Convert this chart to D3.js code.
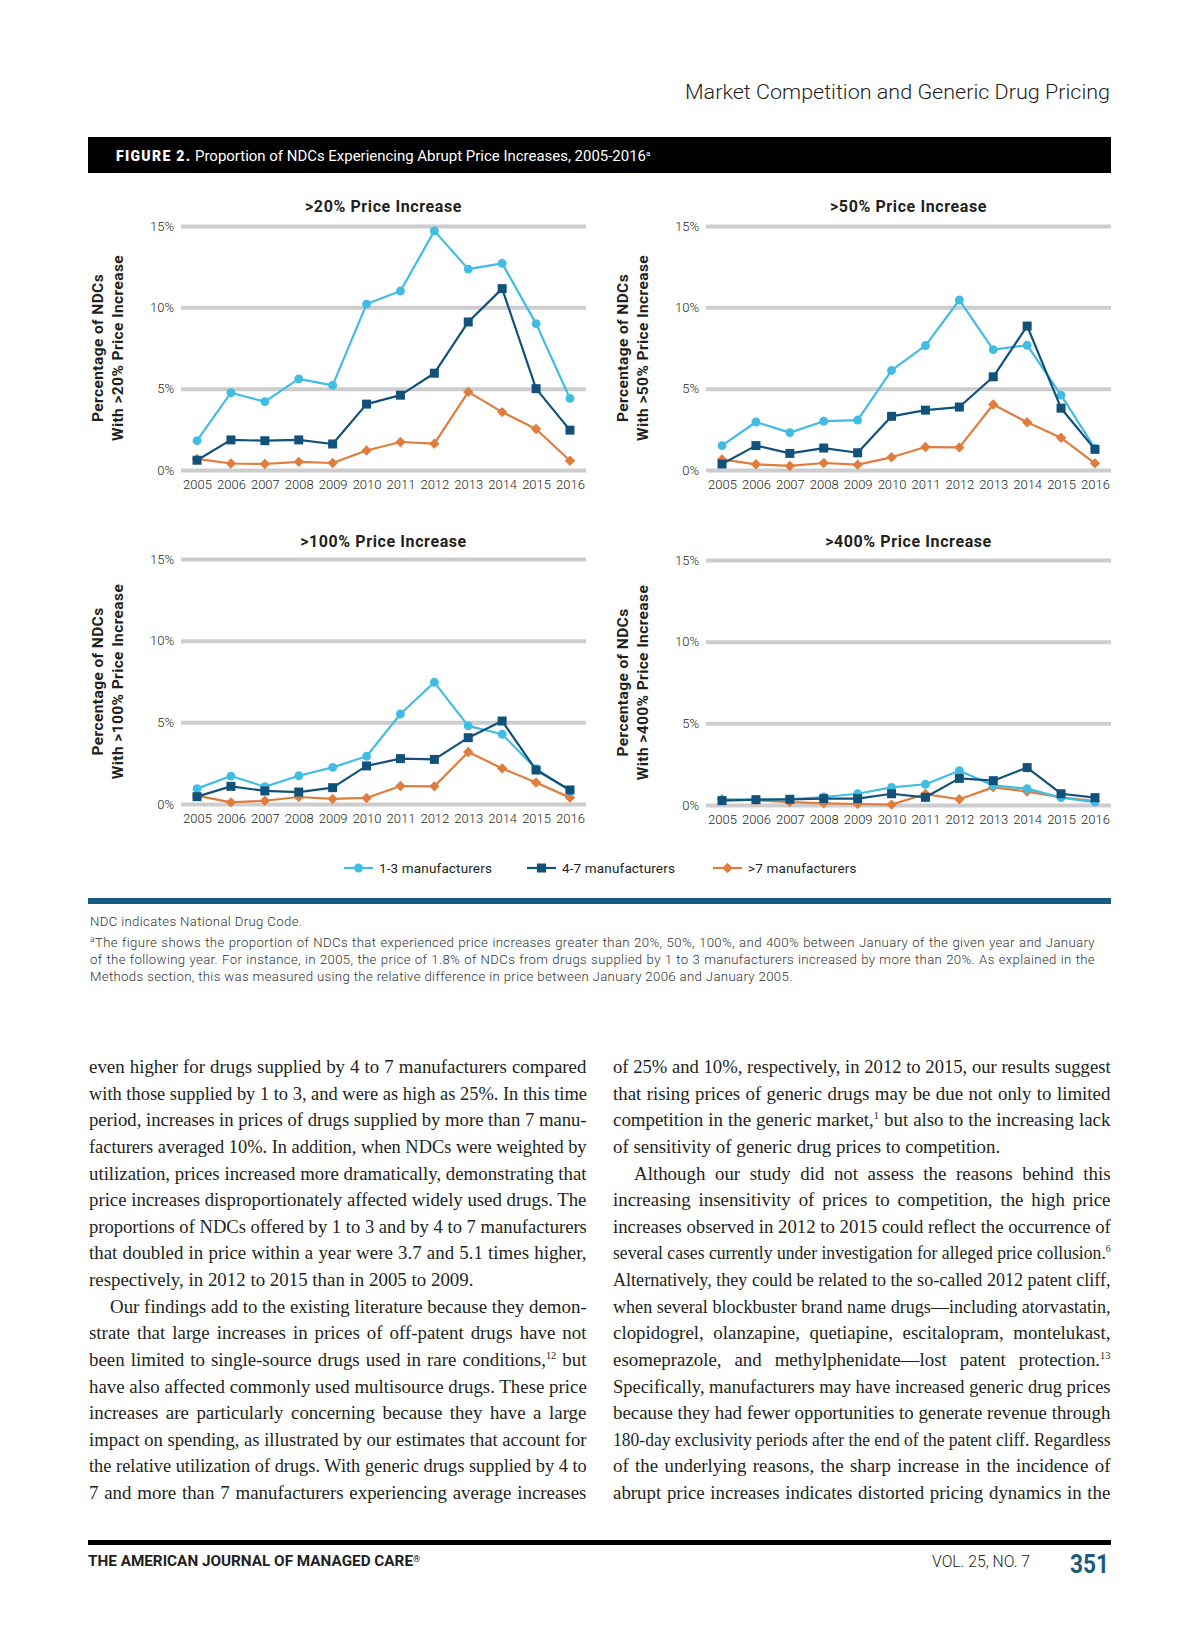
<!DOCTYPE html>
<html><head><meta charset="utf-8">
<script src="https://cdn.jsdelivr.net/npm/d3@7"></script>
<style>
body{margin:0;background:#fff}
svg{display:block}
</style>
</head><body>
<svg id="page" width="1200" height="1638"></svg>
<script>
// ---------------- DATA ----------------
const years = [2005,2006,2007,2008,2009,2010,2011,2012,2013,2014,2015,2016];
const seriesNames = ["1-3 manufacturers","4-7 manufacturers",">7 manufacturers"];
const yTickValues = [0,5,10,15];
const panelTitles = [">20% Price Increase",">50% Price Increase",">100% Price Increase",">400% Price Increase"];
const yTitleLine1 = "Percentage of NDCs";
const yTitleLine2 = ["With >20% Price Increase","With >50% Price Increase","With >100% Price Increase","With >400% Price Increase"];

// >20% price increase
const inc20_mfr1to3  = [1.8,4.75,4.2,5.6,5.2,10.2,11.0,14.7,12.35,12.7,9.0,4.4];
const inc20_mfr4to7  = [0.6,1.85,1.8,1.85,1.6,4.05,4.6,5.95,9.1,11.15,5.0,2.45];
const inc20_mfrOver7 = [0.68,0.4,0.37,0.5,0.43,1.2,1.72,1.62,4.8,3.56,2.52,0.57];
// >50% price increase
const inc50_mfr1to3  = [1.5,2.95,2.3,3.0,3.07,6.12,7.65,10.45,7.4,7.67,4.6,1.33];
const inc50_mfr4to7  = [0.37,1.5,1.02,1.35,1.06,3.3,3.68,3.87,5.73,8.85,3.8,1.27];
const inc50_mfrOver7 = [0.65,0.35,0.25,0.43,0.33,0.78,1.41,1.39,4.03,2.93,1.98,0.41];
// >100% price increase
const inc100_mfr1to3  = [0.94,1.71,1.06,1.73,2.24,2.92,5.51,7.45,4.78,4.27,2.16,0.8];
const inc100_mfr4to7  = [0.45,1.08,0.8,0.73,1.0,2.33,2.78,2.73,4.06,5.08,2.08,0.86];
const inc100_mfrOver7 = [0.51,0.1,0.2,0.43,0.31,0.37,1.1,1.08,3.18,2.18,1.31,0.39];
// >400% price increase
const inc400_mfr1to3  = [0.33,0.33,0.35,0.49,0.69,1.08,1.27,2.1,1.2,1.0,0.45,0.18];
const inc400_mfr4to7  = [0.27,0.33,0.35,0.39,0.39,0.69,0.47,1.63,1.49,2.29,0.69,0.45];
const inc400_mfrOver7 = [0.35,0.29,0.18,0.1,0.06,0.02,0.67,0.35,1.08,0.82,0.47,0.24];

// page texts
const runningHead = "Market Competition and Generic Drug Pricing";
const figLabel = "FIGURE 2.";
const figTitle = "Proportion of NDCs Experiencing Abrupt Price Increases, 2005-2016";
const footnoteLines = [
  "NDC indicates National Drug Code.",
  "^a^The figure shows the proportion of NDCs that experienced price increases greater than 20%, 50%, 100%, and 400% between January of the given year and January",
  "of the following year. For instance, in 2005, the price of 1.8% of NDCs from drugs supplied by 1 to 3 manufacturers increased by more than 20%. As explained in the",
  "Methods section, this was measured using the relative difference in price between January 2006 and January 2005."
];
const footnoteJustify = [false,true,true,false];
const bodyLeft = [
  "even higher for drugs supplied by 4 to 7 manufacturers compared",
  "with those supplied by 1 to 3, and were as high as 25%. In this time",
  "period, increases in prices of drugs supplied by more than 7 manu-",
  "facturers averaged 10%. In addition, when NDCs were weighted by",
  "utilization, prices increased more dramatically, demonstrating that",
  "price increases disproportionately affected widely used drugs. The",
  "proportions of NDCs offered by 1 to 3 and by 4 to 7 manufacturers",
  "that doubled in price within a year were 3.7 and 5.1 times higher,",
  "respectively, in 2012 to 2015 than in 2005 to 2009.",
  "Our findings add to the existing literature because they demon-",
  "strate that large increases in prices of off-patent drugs have not",
  "been limited to single-source drugs used in rare conditions,^12^ but",
  "have also affected commonly used multisource drugs. These price",
  "increases are particularly concerning because they have a large",
  "impact on spending, as illustrated by our estimates that account for",
  "the relative utilization of drugs. With generic drugs supplied by 4 to",
  "7 and more than 7 manufacturers experiencing average increases"
];
const bodyLeftLast = [8];     // paragraph-final lines (not justified)
const bodyLeftIndent = [9];   // paragraph-first lines
const bodyRight = [
  "of 25% and 10%, respectively, in 2012 to 2015, our results suggest",
  "that rising prices of generic drugs may be due not only to limited",
  "competition in the generic market,^1^ but also to the increasing lack",
  "of sensitivity of generic drug prices to competition.",
  "Although our study did not assess the reasons behind this",
  "increasing insensitivity of prices to competition, the high price",
  "increases observed in 2012 to 2015 could reflect the occurrence of",
  "several cases currently under investigation for alleged price collusion.^6^",
  "Alternatively, they could be related to the so-called 2012 patent cliff,",
  "when several blockbuster brand name drugs\u2014including atorvastatin,",
  "clopidogrel, olanzapine, quetiapine, escitalopram, montelukast,",
  "esomeprazole, and methylphenidate\u2014lost patent protection.^13^",
  "Specifically, manufacturers may have increased generic drug prices",
  "because they had fewer opportunities to generate revenue through",
  "180-day exclusivity periods after the end of the patent cliff. Regardless",
  "of the underlying reasons, the sharp increase in the incidence of",
  "abrupt price increases indicates distorted pricing dynamics in the"
];
const bodyRightLast = [3];
const bodyRightIndent = [4];
const journalName = "THE AMERICAN JOURNAL OF MANAGED CARE";
const volumeText = "VOL. 25, NO. 7";
const pageNumber = "351";

// ---------------- STYLE / LAYOUT ----------------
const SANS = "Roboto, 'Open Sans', 'DejaVu Sans', sans-serif";
const SERIF = "'Liberation Serif', 'DejaVu Serif', serif";
const seriesStyle = [
  {color:"#41bde3", marker:"circle"},
  {color:"#12527a", marker:"square"},
  {color:"#e07c3c", marker:"diamond"}
];
const drawOrder = [2,0,1];
const panels = [
  {title:panelTitles[0], yLab:yTitleLine2[0], series:[inc20_mfr1to3,inc20_mfr4to7,inc20_mfrOver7],   x0:181, x1:586,  yTop:226, yBot:470, titleY:212},
  {title:panelTitles[1], yLab:yTitleLine2[1], series:[inc50_mfr1to3,inc50_mfr4to7,inc50_mfrOver7],   x0:706, x1:1111, yTop:226, yBot:470, titleY:212},
  {title:panelTitles[2], yLab:yTitleLine2[2], series:[inc100_mfr1to3,inc100_mfr4to7,inc100_mfrOver7], x0:181, x1:586,  yTop:559, yBot:804, titleY:547},
  {title:panelTitles[3], yLab:yTitleLine2[3], series:[inc400_mfr1to3,inc400_mfr4to7,inc400_mfrOver7], x0:706, x1:1111, yTop:560, yBot:805, titleY:547}
];

const svg = d3.select("#page");
svg.append("rect").attr("width",1200).attr("height",1638).attr("fill","#fff");

// text with ^superscript^ support
function richText(g, str, x, y, font, size, weight, fill, supScale, ls){
  const t = g.append("text").attr("x",x).attr("y",y)
    .attr("font-family",font).attr("font-size",size).attr("font-weight",weight||400)
    .attr("fill",fill||"#231f20");
  if(ls) t.attr("letter-spacing",ls);
  const parts = str.split("^");
  const shift = Math.round(size*0.38);
  let raised = false;
  parts.forEach((p,i)=>{
    if(p==="") { return; }
    const sup = i%2===1;
    const ts = t.append("tspan").text(p);
    if(sup){ ts.attr("font-size",size*(supScale||0.6)).attr("dy",-shift); raised=true; }
    else if(raised){ ts.attr("dy",shift); raised=false; }
  });
  return t;
}
// place a line, condensed by c, optionally justified to width via word-spacing
function placeLine(parent, s, x, y, width, doJustify, font, size, weight, fill, supScale, cond, ls){
  const g = parent.append("g");
  const t = richText(g, s, 0, 0, font, size, weight, fill, supScale, ls);
  const n = t.node().getComputedTextLength();
  const spaces = (s.match(/ /g)||[]).length;
  let c = cond;
  if(doJustify){
    if(n*c > width){ c = width/n; }
    else if(spaces>0){ t.attr("word-spacing", ((width/c - n)/spaces).toFixed(3)); }
  }
  g.attr("transform",`translate(${x},${y}) scale(${c.toFixed(4)},1)`);
  return g;
}

// ---------------- HEADER ----------------
svg.append("text").attr("x",1110).attr("y",99).attr("text-anchor","end")
  .attr("font-family",SANS).attr("font-weight",300).attr("font-size",20).attr("fill","#231f20")
  .attr("textLength",425).attr("lengthAdjust","spacingAndGlyphs").text(runningHead);
svg.append("rect").attr("x",88).attr("y",137).attr("width",1023).attr("height",36).attr("fill","#000");
svg.append("text").attr("x",116).attr("y",161).attr("font-family",SANS).attr("font-weight",900)
  .attr("font-size",14).attr("fill","#fff").attr("textLength",74).attr("lengthAdjust","spacing").text(figLabel);
const ft = svg.append("text").attr("x",195).attr("y",161).attr("font-family",SANS).attr("font-weight",400)
  .attr("font-size",14).attr("fill","#fff");
ft.append("tspan").attr("textLength",451).attr("lengthAdjust","spacingAndGlyphs").text(figTitle);
ft.append("tspan").attr("font-size",8).attr("dy",-5).text("a");

// ---------------- PANELS ----------------
const markerPath = {
  circle: d3.symbol(d3.symbolCircle, 62)(),
  square: "M-4.5,-4.5H4.5V4.5H-4.5Z",
  diamond: "M0,-5.2L5.2,0L0,5.2L-5.2,0Z"
};
panels.forEach(p=>{
  const g = svg.append("g");
  const x = d3.scalePoint().domain(years).range([p.x0,p.x1]).padding(0.473);
  const y = d3.scaleLinear().domain([0,15]).range([p.yBot,p.yTop]);

  // y axis with gridlines
  const ya = g.append("g").attr("transform",`translate(${p.x0},0)`)
    .call(d3.axisLeft(y).tickValues(yTickValues).tickSize(-(p.x1-p.x0)).tickPadding(7).tickFormat(d=>d+"%"));
  ya.select(".domain").remove();
  ya.selectAll(".tick line").attr("stroke","#cdcdcd").attr("stroke-width",4);
  ya.selectAll(".tick text").attr("font-family",SANS).attr("font-size",13).attr("font-weight",300).attr("fill","#231f20");

  // x axis labels
  const xa = g.append("g").attr("transform",`translate(0,${p.yBot})`)
    .call(d3.axisBottom(x).tickSize(0).tickPadding(10));
  xa.select(".domain").remove();
  xa.selectAll(".tick text").attr("font-family",SANS).attr("font-size",13).attr("font-weight",300).attr("fill","#231f20");

  // title
  g.append("text").attr("x",(p.x0+p.x1)/2).attr("y",p.titleY).attr("text-anchor","middle")
    .attr("font-family",SANS).attr("font-weight",700).attr("font-size",16).attr("fill","#231f20")
    .attr("letter-spacing",0.6).text(p.title);

  // y title
  const cy = (p.yTop+p.yBot)/2;
  [[yTitleLine1,-78],[p.yLab,-58]].forEach(([txt,dx])=>{
    g.append("text").attr("transform",`translate(${p.x0+dx},${cy}) rotate(-90)`).attr("text-anchor","middle")
      .attr("font-family",SANS).attr("font-weight",700).attr("font-size",15.5).attr("fill","#231f20")
      .attr("letter-spacing",0.4).text(txt);
  });

  // series
  const line = d3.line().x((d,i)=>x(years[i])).y(d=>y(d));
  drawOrder.forEach(si=>{
    const st = seriesStyle[si];
    const vals = p.series[si];
    g.append("path").attr("d",line(vals)).attr("fill","none").attr("stroke",st.color)
      .attr("stroke-width",2.2).attr("stroke-linejoin","round");
    g.selectAll(null).data(vals).enter().append("path")
      .attr("transform",(d,i)=>`translate(${x(years[i])},${y(d)})`)
      .attr("d",markerPath[st.marker]).attr("fill",st.color);
  });
});

// ---------------- LEGEND ----------------
const legendX = [344,527,713];
const legendY = 868;
seriesNames.forEach((name,i)=>{
  const st = seriesStyle[i];
  const lg = svg.append("g").attr("transform",`translate(${legendX[i]},${legendY})`);
  lg.append("line").attr("x1",0).attr("x2",29).attr("stroke",st.color).attr("stroke-width",2.2);
  lg.append("path").attr("transform","translate(14.5,0)").attr("d",markerPath[st.marker]).attr("fill",st.color);
  lg.append("text").attr("x",35).attr("y",4.5).attr("font-family",SANS).attr("font-size",13.5)
    .attr("font-weight",400).attr("fill","#231f20").attr("letter-spacing",0.15).text(name);
});

// blue rule
svg.append("rect").attr("x",88).attr("y",898).attr("width",1023).attr("height",6).attr("fill","#175a83");

// ---------------- FOOTNOTES ----------------
const fnY = [926,947,964,981];
footnoteLines.forEach((s,i)=>{
  placeLine(svg, s, 90, fnY[i], 1095-90, footnoteJustify[i], SANS, 13.2, 300, "#333", 0.65, 1, 0.35);
});

// ---------------- BODY TEXT ----------------
const bodyTop = 1073, bodyLead = 26.63, bodySize = 19.5, bodyCond = 0.97;
function column(lines, x0, width, lastIdx, indentIdx){
  lines.forEach((s,i)=>{
    const indent = indentIdx.includes(i) ? 21 : 0;
    placeLine(svg, s, x0+indent, bodyTop + i*bodyLead, width-indent, !lastIdx.includes(i),
      SERIF, bodySize, 400, "#231f20", 0.55, bodyCond, 0);
  });
}
column(bodyLeft, 89, 498, bodyLeftLast, bodyLeftIndent);
column(bodyRight, 613, 498, bodyRightLast, bodyRightIndent);

// ---------------- FOOTER ----------------
svg.append("rect").attr("x",88).attr("y",1540).attr("width",1023).attr("height",5).attr("fill","#000");
const jt = svg.append("text").attr("x",88).attr("y",1566).attr("font-family",SANS).attr("font-weight",700)
  .attr("font-size",14).attr("fill","#231f20");
jt.append("tspan").attr("textLength",325).attr("lengthAdjust","spacingAndGlyphs").text(journalName);
jt.append("tspan").attr("font-size",9).attr("dy",-4).text("\u00AE");
svg.append("text").attr("x",932).attr("y",1567).attr("font-family",SANS).attr("font-weight",300)
  .attr("font-size",16).attr("fill","#231f20").attr("textLength",98).attr("lengthAdjust","spacingAndGlyphs").text(volumeText);
svg.append("text").attr("x",1109).attr("y",1573).attr("text-anchor","end").attr("font-family",SANS).attr("font-weight",700)
  .attr("font-size",25).attr("fill","#1d5b7e").attr("textLength",39).attr("lengthAdjust","spacingAndGlyphs").text(pageNumber);
</script>
</body></html>
